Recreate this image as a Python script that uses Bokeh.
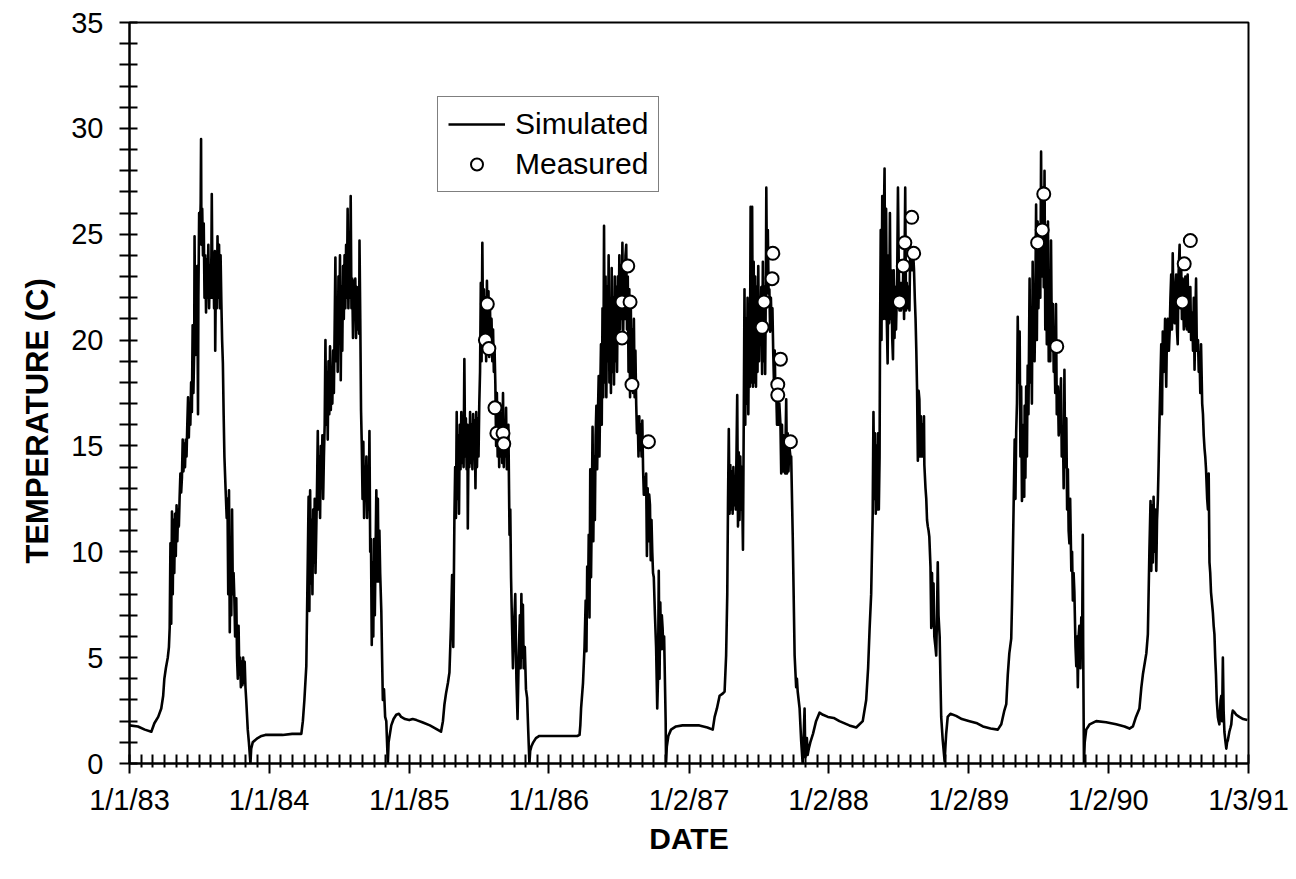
from datetime import date
import numpy as np
from bokeh.plotting import figure
from bokeh.models import FixedTicker, Legend, LegendItem, Title
from bokeh.embed import file_html
from bokeh.resources import INLINE

# ---------------- data (day = days since 1/1/83, temperature in C) ----------------
ORIGIN = date(1983, 1, 1)
X_TICK_LABELS = ["1/1/83", "1/1/84", "1/1/85", "1/1/86", "1/2/87",
                 "1/2/88", "1/2/89", "1/2/90", "1/3/91"]
Y_TICKS = [0, 5, 10, 15, 20, 25, 30, 35]

SIM_1983 = [(0,1.8),(22,1.75),(40,1.6),(57,1.5),(65,1.9),(75,2.2),(83,2.6),(88,3.2),(91,4.0),(95,4.5),(100,5.0),(103,5.5),(105,6.4),
    (107,10.4),(109,6.6),(111,11.9),(113,8.0),(115,11.5),(117,9.0),(119,11.8),(121,9.8),
    (123,12.2),(125,10.5),(127,12.0),(129,11.2),(131,12.6),(133,13.7),(135,12.8),(137,13.5),
    (139,15.3),(141,13.8),(143,15.1),(145,14.0),(147,15.3),(149,14.5),
    (151,16.0),(153,17.3),(155,15.4),(157,17.0),(159,16.0),(161,18.0),(163,16.6),(165,20.7),(167,17.5),(169,19.5),
    (170,24.9),(172,19.3),(173,23.0),(175,20.5),(177,23.5),(179,16.5),(180,22.0),
    (182,26.0),(184,24.9),(186,26.5),(187,29.5),(188,24.5),(190,26.2),(192,24.0),
    (194,25.5),(196,22.0),(198,24.0),(200,21.3),(202,23.8),(204,22.0),(206,24.5),(208,21.5),(210,23.5),(212,22.0),
    (214,24.0),(215,26.9),(217,22.0),(219,24.0),(221,21.5),(223,24.2),(224,19.5),(226,23.5),
    (228,21.5),(230,24.9),(232,22.0),(234,24.5),(236,21.5),(238,24.0),(240,21.8),
    (242,20.0),(244,18.9),(246,16.5),(248,14.5),(251,13.0),(254,11.6),(256,12.5),
    (258,8.0),(260,12.9),(262,6.2),(264,10.5),(266,7.0),(268,12.0),(270,8.0),
    (272,9.0),(274,7.8),(276,6.0),(279,7.8),(281,5.0),
    (283,4.0),(285,6.5),(287,4.2),(289,5.0),(291,3.6),(293,4.8),(295,3.7),(297,5.0),(299,3.8),(301,4.8),(303,3.6),
    (305,3.0),(309,1.6),(312,1.0),(316,0.0),(318,0.7),(322,1.0),(328,1.1),(335,1.2),(345,1.3),(355,1.35),(365,1.35)]

SIM_1984 = [(375,1.35),(400,1.35),(425,1.4),(449,1.4),(453,2.0),(457,3.0),(462,4.6),(466,9.8),
    (468,12.6),(470,7.2),(472,12.9),(474,8.5),(476,11.5),(478,8.0),(480,12.0),(482,9.5),(484,12.5),(486,9.0),(488,11.0),
    (490,13.0),(492,15.7),(494,12.0),(496,14.5),(498,11.6),(500,15.0),(502,13.0),(504,15.5),(506,12.5),(508,14.5),
    (510,16.0),(512,20.0),(514,16.0),(516,18.5),(518,15.3),(520,19.0),(522,16.5),
    (524,19.7),(526,16.7),(528,18.5),(530,17.0),(532,19.5),(534,17.5),
    (536,20.5),(538,23.9),(540,19.0),(542,22.0),(544,18.5),(546,23.0),(548,20.0),
    (550,24.0),(552,18.1),(554,22.5),(556,19.5),(558,23.5),(560,21.0),
    (562,24.0),(564,21.5),(566,24.5),(568,22.0),(570,26.2),(572,21.5),(574,24.0),(576,22.0),(578,26.8),(580,21.5),
    (582,22.9),(584,20.1),(586,22.8),(588,21.0),(590,22.9),(592,20.1),(594,22.5),(596,20.5),(598,22.0),
    (600,20.3),(601,24.7),(603,21.0),(605,16.7),
    (607,15.0),(609,12.5),(611,15.2),(613,11.6),(615,14.0),(617,12.5),(619,14.5),(621,11.6),(623,13.5),
    (625,12.0),(627,15.7),(629,10.0),(631,10.6),(633,5.6),(635,9.5),(637,6.0),(639,10.6),(641,7.0),
    (643,10.0),(645,12.9),(647,8.6),(649,12.5),(651,8.6),(653,11.0),
    (655,9.0),(658,7.2),(660,5.0),(662,3.0),(665,3.5),(668,2.2),(671,2.0),(673,1.0),(675,0.0),(677,1.0),
    (684,1.8),(690,2.1),(697,2.3),(704,2.35),(710,2.2),(720,2.1),(731,2.05)]

SIM_1985 = [(740,2.1),(750,2.05),(765,1.95),(785,1.8),(800,1.65),(814,1.5),(819,2.0),(823,2.8),(827,3.3),(832,3.8),
    (836,4.3),(840,6.5),(843,8.9),(846,5.5),(849,11.6),
    (851,14.0),(853,11.6),(855,16.6),(857,12.5),(859,15.5),(861,11.8),
    (863,16.0),(865,13.9),(867,16.6),(869,14.2),(871,16.0),(873,14.0),(875,19.1),(877,14.5),(879,16.3),(881,13.9),
    (883,16.0),(884,11.1),(886,15.5),(888,14.0),(890,16.6),(892,14.2),(894,16.0),(896,13.9),(898,16.5),(900,14.5),
    (902,16.2),(904,13.0),(906,16.6),(908,14.0),(910,16.3),(912,14.5),(914,17.0),
    (916,18.5),(918,22.7),(920,19.0),(922,24.6),
    (924,20.0),(926,22.4),(928,19.5),(930,22.0),(932,19.0),(934,22.8),(936,20.0),(938,22.3),(940,19.2),(942,21.5),
    (944,19.5),(946,21.0),(948,19.0),(950,20.5),(952,18.5),(954,19.5),
    (956,17.9),(958,15.0),(960,17.5),(962,14.5),(964,16.8),(966,14.0),(968,17.0),(970,14.5),(972,16.5),(974,14.2),
    (976,17.5),(978,14.0),(980,16.0),(982,14.5),(984,16.8),(986,13.9),(988,15.5),(990,16.0),
    (993,10.8),(995,12.0),(997,8.8),(999,7.0),(1002,4.5),(1005,6.5),(1008,8.0),(1011,4.0),(1014,2.1),(1017,5.0),
    (1020,7.0),(1022,4.5),(1024,8.0),(1026,5.0),(1028,7.5),(1030,4.5),(1033,5.5),(1036,3.5),(1039,3.1),(1042,1.5),
    (1045,0.0),(1047,0.6),(1050,0.8),(1055,1.0),(1062,1.2),(1071,1.3),(1085,1.3)]

SIM_1986 = [(1100,1.3),(1125,1.3),(1150,1.3),(1170,1.3),(1176,1.35),(1178,1.8),(1180,2.6),(1185,3.8),(1189,5.5),
    (1192,7.7),(1194,5.3),(1196,9.3),(1198,7.5),(1200,10.8),(1202,6.9),(1204,13.9),(1206,8.8),(1208,12.0),(1210,15.9),
    (1212,10.5),(1214,14.5),(1216,11.5),(1218,15.5),(1220,16.9),(1222,13.9),(1224,16.5),(1226,18.3),(1228,14.5),
    (1230,17.5),(1232,19.8),(1234,16.0),(1236,21.5),(1238,17.3),(1240,25.4),(1242,18.0),(1244,23.0),(1246,17.3),
    (1248,22.5),(1250,19.0),(1252,24.0),(1254,18.0),(1256,22.0),(1258,17.5),(1260,23.4),(1262,18.5),(1264,22.0),
    (1266,17.9),(1268,23.0),(1270,19.0),(1272,22.5),(1274,18.5),(1276,23.0),(1278,20.2),(1280,24.0),(1282,20.5),
    (1284,23.5),(1286,21.0),(1288,24.6),(1290,20.2),(1292,23.5),(1294,21.0),(1296,24.0),(1298,24.5),(1300,20.5),
    (1302,23.0),(1304,18.5),(1306,22.4),(1308,17.3),(1310,21.5),(1312,18.0),(1314,20.5),(1316,17.5),(1318,21.0),
    (1320,17.3),(1322,19.5),(1324,17.0),(1326,15.6),(1328,16.4),(1330,14.5),(1332,16.4),(1334,14.8),(1336,16.0),
    (1338,14.5),(1340,16.2),(1342,13.9),(1344,12.7),(1346,13.5),(1348,12.7),(1350,13.7),(1352,9.8),(1354,13.0),
    (1356,10.5),(1358,12.7),(1360,12.2),(1362,9.6),(1364,11.5),(1366,10.0),(1368,9.0),(1370,8.8),(1373,7.0),
    (1376,5.5),(1379,2.6),(1381,4.0),(1383,9.1),(1385,4.0),(1387,7.6),(1389,5.4),(1391,7.0),(1393,6.4),(1395,5.4),
    (1397,6.0),(1399,4.0),(1401,2.0),(1402,0.0),(1404,0.8),(1408,1.3),(1415,1.6),(1428,1.75),(1445,1.8),(1460,1.8)]

SIM_1987 = [(1475,1.8),(1489,1.8),(1510,1.7),(1524,1.6),(1529,2.2),(1535,2.6),(1542,3.2),(1550,3.3),(1555,3.4),
    (1559,5.1),(1562,8.0),(1564,12.5),(1566,15.8),(1568,11.8),(1570,14.1),(1572,12.0),(1574,13.8),(1576,11.8),
    (1578,14.0),(1580,12.2),(1582,13.5),(1584,12.0),(1586,14.5),(1588,17.4),(1590,11.2),(1592,14.7),(1594,11.5),
    (1596,14.5),(1598,12.0),(1600,14.0),(1603,10.1),(1605,16.0),(1607,22.4),(1609,16.0),(1611,21.0),(1613,17.0),
    (1615,22.0),(1617,16.5),(1619,21.5),(1621,17.8),(1623,26.3),(1625,18.0),(1627,26.3),(1629,17.8),(1631,23.7),
    (1633,18.0),(1635,23.0),(1637,17.8),(1639,22.5),(1641,18.5),(1643,23.5),(1645,19.0),(1647,22.0),(1649,20.6),
    (1651,22.5),(1653,18.4),(1655,23.7),(1657,19.0),(1659,22.5),(1661,18.4),(1663,23.0),(1664,27.2),(1666,22.2),
    (1668,25.2),(1670,22.2),(1672,22.4),(1674,20.4),(1676,22.0),(1678,20.5),(1680,21.5),(1682,19.5),(1684,18.0),
    (1686,19.5),(1688,17.2),(1690,17.6),(1692,16.0),(1694,17.5),(1696,16.0),(1698,17.0),(1701,16.0),(1703,13.7),
    (1705,16.0),(1707,13.8),(1709,15.5),(1711,14.0),(1713,13.7),(1716,17.2),(1718,13.7),(1720,15.6),(1722,13.8),
    (1724,15.0),(1727,14.5),(1729,14.5),(1733,10.8),(1738,5.1),(1742,3.6),(1744,4.0),(1746,3.4),(1751,2.6),
    (1755,1.1),(1759,0.0),(1762,1.5),(1764,2.6),(1766,0.3),(1768,0.5),(1770,1.2),(1772,0.4),(1775,0.7),(1779,1.0),
    (1786,1.4),(1794,2.0),(1803,2.4),(1812,2.3),(1825,2.2)]

SIM_1988 = [(1840,2.15),(1855,2.0),(1881,1.8),(1899,1.7),(1916,2.0),(1925,3.0),(1930,4.5),(1934,6.4),(1938,8.0),
    (1942,11.8),(1944,16.6),(1946,12.5),(1948,15.6),(1950,11.8),(1952,15.0),(1954,12.0),(1956,15.6),(1958,12.0),
    (1960,14.5),(1961,19.5),(1963,25.2),(1965,20.0),(1967,26.8),(1969,21.0),(1971,25.5),(1973,28.1),(1975,21.0),
    (1977,26.2),(1979,20.8),(1981,18.9),(1983,24.0),(1985,20.8),(1987,26.0),(1989,21.0),(1991,23.3),(1993,20.1),
    (1995,19.1),(1997,23.3),(1999,20.1),(2001,22.5),(2003,20.5),(2006,23.0),(2008,27.2),(2010,23.7),(2012,21.4),
    (2014,22.7),(2016,21.4),(2018,22.7),(2020,21.5),(2022,23.5),(2024,21.0),(2027,27.2),(2029,21.4),(2031,22.7),
    (2033,21.5),(2035,22.5),(2038,21.4),(2040,24.3),(2042,23.3),(2044,24.3),(2046,23.3),(2048,24.0),(2050,23.3),
    (2052,22.0),(2054,21.0),(2056,19.5),(2058,17.6),(2060,14.3),(2062,17.6),(2064,17.2),(2066,14.5),(2068,16.4),
    (2070,14.5),(2072,16.0),(2074,14.5),(2076,16.4),(2077,14.1),(2080,13.0),(2082,12.5),(2084,11.5),(2086,11.2),
    (2088,11.0),(2090,10.7),(2093,9.3),(2095,6.4),(2097,9.0),(2099,6.5),(2101,8.5),(2103,6.0),(2106,5.5),(2108,5.1),
    (2110,7.0),(2112,9.5),(2114,7.0),(2117,6.0),(2119,4.0),(2121,2.2),(2125,1.1),(2130,0.1),(2132,0.8),(2134,1.4),
    (2138,2.2),(2145,2.35),(2160,2.25),(2175,2.1)]

SIM_1989 = [(2195,2.0),(2215,1.9),(2230,1.75),(2250,1.65),(2269,1.6),(2278,1.85),(2286,2.5),(2291,2.8),(2295,4.2),
    (2299,5.2),(2304,5.9),(2306,7.5),(2308,9.6),(2311,13.0),(2313,15.3),(2315,12.5),(2317,15.7),(2319,17.0),
    (2321,21.1),(2323,18.0),(2326,20.4),(2328,14.5),(2330,17.8),(2332,12.4),(2334,13.4),(2336,16.0),(2338,12.6),
    (2339,16.9),(2341,13.5),(2343,17.8),(2345,14.5),(2347,18.8),(2349,16.5),(2352,22.9),(2354,18.0),(2356,20.8),
    (2358,17.0),(2360,23.7),(2362,19.5),(2365,19.0),(2367,22.0),(2369,26.4),(2371,20.0),(2373,25.6),(2375,21.5),
    (2378,24.7),(2380,22.0),(2382,28.9),(2384,23.0),(2387,27.2),(2389,22.5),(2391,28.0),(2393,20.5),(2395,25.0),
    (2397,19.8),(2400,25.6),(2402,19.0),(2404,22.7),(2406,19.0),(2408,24.7),(2410,20.0),(2413,21.7),(2415,18.5),
    (2417,19.8),(2419,17.5),(2421,21.7),(2423,16.5),(2426,17.8),(2428,15.5),(2430,15.9),(2432,17.0),(2434,18.2),
    (2436,14.5),(2439,15.9),(2441,13.0),(2443,18.6),(2445,14.0),(2448,16.3),(2450,12.0),(2452,13.9),(2454,11.0),
    (2456,10.4),(2458,12.5),(2461,9.1),(2463,10.0),(2465,7.7),(2467,9.0),(2469,8.1),(2472,5.5),(2474,4.6),
    (2476,6.0),(2478,3.6),(2480,6.0),(2482,6.5),(2485,4.5),(2487,6.9),(2489,5.0),(2491,10.8),(2492,5.5),(2494,0.0),
    (2496,1.0),(2500,1.6),(2509,1.85),(2526,2.0),(2552,1.95)]

SIM_1990 = [(2578,1.85),(2600,1.75),(2613,1.65),(2622,1.75),(2630,2.2),(2639,2.6),(2644,3.6),(2648,4.2),(2657,5.2),
    (2661,6.1),(2665,10.0),(2668,12.4),(2670,9.1),(2672,12.2),(2674,9.5),(2676,12.6),(2678,10.0),(2680,12.0),
    (2683,9.1),(2685,11.5),(2687,12.4),(2689,14.0),(2691,15.9),(2693,17.5),(2696,19.8),(2698,16.5),(2700,20.4),
    (2702,18.5),(2704,19.0),(2706,21.0),(2709,17.8),(2711,20.5),(2713,21.0),(2716,19.5),(2718,20.4),(2720,22.0),
    (2722,23.1),(2724,20.5),(2726,24.1),(2728,21.5),(2731,20.8),(2733,22.5),(2735,23.1),(2737,20.5),(2739,19.8),
    (2741,23.0),(2744,24.5),(2746,21.5),(2748,23.7),(2750,21.0),(2752,22.9),(2755,20.5),(2757,20.8),(2759,23.0),
    (2761,22.1),(2763,20.5),(2765,23.1),(2768,20.4),(2770,22.0),(2772,22.5),(2774,20.0),(2777,21.3),(2779,19.5),
    (2781,22.0),(2783,18.6),(2785,21.0),(2787,22.9),(2789,19.5),(2792,20.0),(2794,18.5),(2796,19.4),(2798,17.5),
    (2800,19.8),(2803,17.0),(2805,16.5),(2807,15.5),(2809,14.9),(2811,14.5),(2813,13.9),(2816,12.5),(2818,12.0),
    (2820,13.7),(2822,9.5),(2824,9.0),(2826,8.1),(2829,7.5),(2831,7.1),(2833,6.5),(2835,6.1),(2837,5.0),(2839,4.2),
    (2841,3.0),(2844,2.2),(2846,2.0),(2848,1.85),(2851,3.0),(2853,3.2),(2855,2.0),(2857,5.0),(2859,2.5),(2861,1.5),
    (2864,1.0),(2866,0.7),(2868,1.0),(2870,1.1),(2872,1.3),(2874,1.5),(2877,1.7),(2879,1.85),(2881,2.3),(2883,2.5),
    (2888,2.4),(2892,2.3),(2900,2.2),(2910,2.1),(2921,2.05)]

MEAS_DAY = [930, 935, 939, 955, 960, 976, 978,
            1287, 1287, 1302, 1308, 1313, 1356,
            1653, 1658, 1679, 1681, 1694, 1694, 1701, 1727,
            2012, 2022, 2026, 2044, 2049,
            2373, 2385, 2389, 2423,
            2751, 2756, 2772]
MEAS_TEMP = [20.0, 21.7, 19.6, 16.8, 15.6, 15.6, 15.1,
             20.1, 21.8, 23.5, 21.8, 17.9, 15.2,
             20.6, 21.8, 22.9, 24.1, 17.9, 17.4, 19.1, 15.2,
             21.8, 23.5, 24.6, 25.8, 24.1,
             24.6, 25.2, 26.9, 19.7,
             21.8, 23.6, 24.7]

# ---------------- derived ----------------
def label_to_day(s):
    m, d, y = (int(v) for v in s.split("/"))
    return (date(1900 + y, m, d) - ORIGIN).days

x_ticks = [label_to_day(s) for s in X_TICK_LABELS]
x_minor = []
for a, b in zip(x_ticks[:-1], x_ticks[1:]):
    x_minor.extend(np.linspace(a, b, 13)[1:-1].tolist())
y_minor = [v for v in range(Y_TICKS[0], Y_TICKS[-1] + 1) if v not in Y_TICKS]

series = [SIM_1983, SIM_1984, SIM_1985, SIM_1986, SIM_1987, SIM_1988, SIM_1989, SIM_1990]
sim_day = [d for s in series for d, _ in s]
sim_temp = [t for s in series for _, t in s]

FONT = "Liberation Sans"

p = figure(width=1296, height=879, output_backend="svg", toolbar_location=None,
           x_range=(x_ticks[0], x_ticks[-1]), y_range=(Y_TICKS[0], Y_TICKS[-1]),
           min_border_left=129, min_border_right=48, min_border_top=22, min_border_bottom=116)
p.xgrid.visible = False
p.ygrid.visible = False
p.outline_line_color = "black"
p.outline_line_width = 2
p.outline_line_alpha = 1.0
p.background_fill_color = "white"
p.border_fill_color = "white"

line_r = p.line(sim_day, sim_temp, line_color="black", line_width=2.6, line_join="round")
meas_r = p.scatter(MEAS_DAY, MEAS_TEMP, marker="circle", size=13, fill_color="white",
                   line_color="black", line_width=2)

xa = p.xaxis[0]
xa.ticker = FixedTicker(ticks=x_ticks, minor_ticks=x_minor)
xa.major_label_overrides = {t: s for t, s in zip(x_ticks, X_TICK_LABELS)}
xa.major_tick_in = 9
xa.major_tick_out = 10
xa.minor_tick_in = 9
xa.minor_tick_out = 4
xa.major_label_standoff = 10
xa.axis_label = "DATE"
xa.axis_label_standoff = 3

ya = p.yaxis[0]
ya.ticker = FixedTicker(ticks=Y_TICKS, minor_ticks=y_minor)
ya.major_tick_in = 8
ya.major_tick_out = 10
ya.minor_tick_in = 8
ya.minor_tick_out = 10
ya.major_label_standoff = 16

for ax in (xa, ya):
    ax.axis_line_color = "black"
    ax.axis_line_width = 2
    ax.major_tick_line_color = "black"
    ax.major_tick_line_width = 2
    ax.minor_tick_line_color = "black"
    ax.minor_tick_line_width = 2
    ax.major_label_text_font = FONT
    ax.major_label_text_font_size = "29px"
    ax.major_label_text_color = "black"
    ax.axis_label_text_font = FONT
    ax.axis_label_text_font_size = "30px"
    ax.axis_label_text_font_style = "bold"
    ax.axis_label_text_color = "black"

ytitle = Title(text="TEMPERATURE (C)", align="left", offset=200, standoff=28,
               text_font=FONT, text_font_size="31px", text_font_style="bold", text_color="black")
p.add_layout(ytitle, "left")

legend = Legend(items=[LegendItem(label="Simulated", renderers=[line_r]),
                       LegendItem(label="Measured", renderers=[meas_r])],
                location=(308, 571), orientation="vertical",
                label_text_font=FONT, label_text_font_size="30px", label_text_color="black",
                glyph_width=57, glyph_height=30, label_standoff=10, padding=10, spacing=6,
                margin=0, border_line_color="black", border_line_width=1.5,
                background_fill_color="white", background_fill_alpha=1.0)
p.add_layout(legend, "center")

open("out.html", "w").write(file_html(p, INLINE))
